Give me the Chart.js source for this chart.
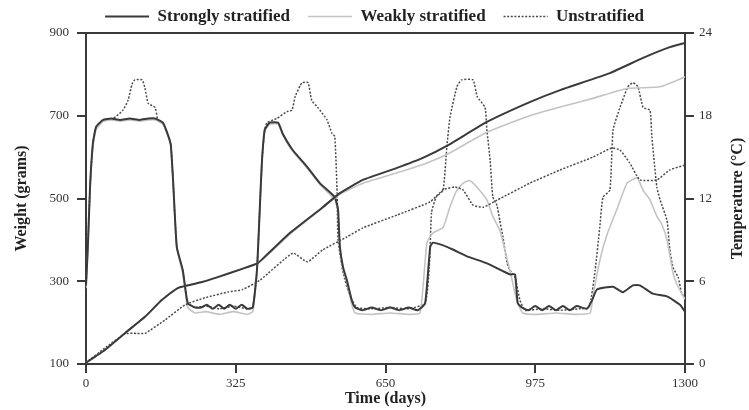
<!DOCTYPE html>
<html><head><meta charset="utf-8">
<script src="https://cdn.jsdelivr.net/npm/chart.js@4.4.1/dist/chart.umd.min.js"></script>
<style>html,body{margin:0;padding:0;background:#fff}</style>
</head><body>
<canvas id="c" width="749" height="410"></canvas>
<script>
const seriesNames = ['Strongly stratified', 'Weakly stratified', 'Unstratified'];
const xTicks = [0, 325, 650, 975, 1300];
const weightTicks = [100, 300, 500, 700, 900];
const tempTicks = [0, 6, 12, 18, 24];
const xTitle = 'Time (days)';
const weightTitle = 'Weight (grams)';
const tempTitle = 'Temperature (°C)';

// [day, grams]
const strongWeight = [[0,103],[20,118],[41,134],[85,175],[128,214],[165,255],[200,284],[252,298],[286,310],[339,330],[373,344],[388,359],[443,417],[514,479],[551,513],[601,545],[675,574],[731,598],[786,629],[870,685],[963,733],[1029,762],[1137,803],[1209,840],[1267,866],[1300,876]];
const weakWeight = [[0,103],[20,118],[41,134],[85,175],[128,214],[165,255],[200,284],[252,298],[286,310],[339,330],[373,344],[388,357],[443,414],[514,478],[551,510],[601,537],[675,562],[740,586],[786,608],[870,660],[963,700],[1029,721],[1100,742],[1174,766],[1246,770],[1300,794]];
const unstratWeight = [[0,103],[40,138],[85,173],[110,174],[128,174],[171,206],[215,243],[258,260],[308,274],[340,280],[378,303],[449,368],[480,347],[514,376],[566,407],[601,429],[675,460],[747,492],[775,521],[801,528],[818,521],[840,484],[862,479],[892,496],[963,537],[1029,569],[1100,600],[1141,622],[1159,617],[1180,586],[1202,545],[1239,545],[1267,569],[1300,581]];

// [day, °C]
const strongTemp = [[0,5.7],[4,8.5],[9,13.0],[15,16.0],[22,17.2],[37,17.7],[55,17.8],[74,17.7],[95,17.8],[117,17.7],[135,17.8],[150,17.8],[167,17.5],[178,16.6],[184,15.9],[189,13.3],[197,8.5],[210,6.8],[215,5.6],[221,4.4],[237,4.1],[250,4.1],[262,4.3],[275,4.0],[288,4.3],[300,4.0],[312,4.3],[325,4.0],[338,4.3],[350,4.0],[362,4.1],[371,6.8],[378,11.9],[382,14.8],[388,17.0],[399,17.5],[417,17.5],[427,16.7],[449,15.5],[480,14.3],[508,13.1],[540,12.1],[547,11.2],[551,8.5],[558,7.0],[566,6.1],[577,4.6],[584,4.1],[600,3.9],[620,4.1],[640,3.9],[660,4.1],[680,3.9],[700,4.1],[720,3.9],[736,4.4],[747,8.5],[753,8.8],[775,8.6],[796,8.3],[827,7.8],[870,7.3],[920,6.5],[931,6.5],[937,4.4],[946,4.1],[960,3.9],[975,4.2],[990,3.9],[1005,4.2],[1020,3.9],[1035,4.2],[1050,3.9],[1065,4.2],[1087,4.0],[1098,4.6],[1109,5.4],[1144,5.6],[1165,5.2],[1187,5.7],[1202,5.7],[1230,5.1],[1261,4.9],[1289,4.3],[1300,3.8]];
const weakTemp = [[0,5.5],[4,8.3],[9,12.8],[15,15.8],[22,17.0],[37,17.6],[55,17.7],[74,17.6],[95,17.7],[117,17.6],[135,17.7],[150,17.7],[167,17.4],[178,16.5],[184,15.8],[189,13.2],[197,8.4],[210,6.6],[215,5.4],[221,4.1],[237,3.7],[260,3.8],[290,3.6],[320,3.8],[350,3.6],[362,3.8],[371,6.6],[378,11.8],[382,14.7],[388,16.9],[399,17.4],[417,17.4],[427,16.6],[449,15.4],[480,14.2],[508,13.0],[540,11.9],[547,11.0],[551,8.3],[558,6.8],[566,5.9],[577,4.3],[584,3.7],[620,3.6],[660,3.7],[700,3.6],[725,3.7],[740,8.8],[753,9.5],[775,9.9],[790,11.4],[805,12.6],[818,13.1],[833,13.3],[849,12.8],[870,11.9],[883,10.7],[898,9.7],[905,8.8],[920,6.8],[935,4.6],[948,3.7],[980,3.6],[1020,3.7],[1060,3.6],[1094,3.7],[1100,4.9],[1115,7.5],[1131,9.4],[1152,11.2],[1174,13.1],[1196,13.5],[1209,12.6],[1224,11.9],[1239,10.7],[1250,10.1],[1261,9.0],[1274,6.6],[1285,5.6],[1300,4.7]];
const unstratTemp = [[0,5.7],[4,8.5],[9,13.0],[15,16.0],[22,17.2],[37,17.7],[59,17.8],[80,18.4],[91,19.1],[100,20.3],[106,20.6],[122,20.6],[128,20.0],[135,18.9],[150,18.6],[156,17.7],[167,17.4],[178,16.6],[184,15.9],[189,13.3],[197,8.5],[210,6.8],[215,5.6],[221,4.4],[237,4.1],[260,4.2],[290,4.0],[320,4.2],[350,4.0],[362,4.1],[371,6.8],[378,11.9],[382,14.8],[388,17.0],[393,17.5],[414,17.8],[436,18.3],[447,18.4],[454,19.4],[465,20.2],[469,20.4],[482,20.4],[490,19.1],[503,18.6],[523,17.7],[534,16.7],[540,16.5],[545,12.4],[547,9.0],[558,6.6],[573,4.9],[588,4.1],[620,4.0],[660,4.1],[700,4.0],[736,4.4],[745,7.0],[750,11.0],[760,12.1],[775,12.6],[783,15.7],[790,17.9],[805,20.1],[815,20.6],[840,20.6],[849,19.4],[866,18.6],[870,17.0],[877,14.8],[883,12.1],[892,11.5],[898,10.4],[905,9.2],[914,7.3],[920,6.8],[931,6.3],[942,4.6],[953,3.9],[990,4.0],[1030,3.9],[1070,4.0],[1092,4.1],[1105,6.8],[1115,9.9],[1122,12.1],[1137,12.6],[1144,17.0],[1159,18.6],[1176,20.1],[1187,20.4],[1198,20.1],[1209,18.6],[1224,18.4],[1228,16.5],[1239,12.8],[1246,11.9],[1261,10.4],[1267,8.3],[1274,7.0],[1285,6.3],[1293,5.1],[1300,4.8]];

const toXY = arr => arr.map(([d, v]) => ({x: d, y: v}));
const styles = [
  {borderColor: '#3a3a3a', borderWidth: 2, borderDash: []},
  {borderColor: '#c4c4c4', borderWidth: 1.6, borderDash: []},
  {borderColor: '#4a4a4a', borderWidth: 1.5, borderDash: [2, 1.6]}
];
const weightSets = [strongWeight, weakWeight, unstratWeight];
const tempSets = [strongTemp, weakTemp, unstratTemp];
const datasets = [];
weightSets.forEach((s, i) => datasets.push(Object.assign({label: seriesNames[i], data: toXY(s), yAxisID: 'y', pointRadius: 0, fill: false, tension: 0.15}, styles[i])));
tempSets.forEach((s, i) => datasets.push(Object.assign({label: seriesNames[i], data: toXY(s), yAxisID: 'yT', pointRadius: 0, fill: false, tension: 0.15}, styles[i])));

const serif = 'Liberation Serif, Times New Roman, serif';
const INK = '#3a3a3a';
const tickFont = {family: serif, size: 13};
const titleFont = {family: serif, size: 16, weight: 'bold'};

const legendFit = {
  id: 'legendFit',
  beforeInit(chart) {
    const lg = chart.legend;
    if (!lg) return;
    const orig = lg.fit;
    lg.fit = function () { orig.call(this); this.height = 43; };
  }
};
const frame = {
  id: 'frame',
  afterDraw(chart) {
    const {ctx, chartArea: a} = chart;
    ctx.save();
    ctx.strokeStyle = INK; ctx.lineWidth = 2;
    ctx.beginPath(); ctx.moveTo(a.left - 1, a.top); ctx.lineTo(a.right + 1, a.top); ctx.stroke();
    // right-axis title, read bottom-to-top like the reference
    const s = chart.scales.yT;
    ctx.translate(738, (s.top + s.bottom) / 2);
    ctx.rotate(-Math.PI / 2);
    ctx.fillStyle = '#222';
    ctx.font = 'bold 16px ' + serif;
    ctx.textAlign = 'center'; ctx.textBaseline = 'middle';
    ctx.fillText(tempTitle, 0, 0);
    ctx.restore();
  }
};
const axisCommon = {
  border: {display: true, color: INK, width: 2},
  grid: {drawOnChartArea: false, drawTicks: true, tickLength: 9, color: INK, lineWidth: 2}
};
const plainTick = v => String(v);

new Chart(document.getElementById('c'), {
  type: 'line',
  data: {datasets},
  plugins: [legendFit, frame],
  options: {
    responsive: false,
    animation: false,
    layout: {padding: {top: -10, left: 0, right: 0, bottom: 0}},
    plugins: {
      tooltip: {enabled: false},
      legend: {
        position: 'top',
        labels: {
          generateLabels: chart => {
            const items = Chart.defaults.plugins.legend.labels.generateLabels(chart);
            return items.filter(it => it.datasetIndex < 3).map(it => {
              const ds = chart.data.datasets[it.datasetIndex];
              it.lineDash = ds.borderDash;
              it.lineWidth = ds.borderWidth;
              it.strokeStyle = ds.borderColor;
              it.fillStyle = ds.borderColor;
              it.pointStyle = 'line';
              return it;
            });
          },
          usePointStyle: true, pointStyle: 'line', pointStyleWidth: 44,
          padding: 18, color: '#222',
          font: {family: serif, size: 17, weight: 'bold'}
        }
      }
    },
    scales: {
      x: Object.assign({}, axisCommon, {
        type: 'linear', position: 'bottom', min: 0, max: 1300,
        afterBuildTicks: s => { s.ticks = xTicks.map(v => ({value: v})); },
        afterFit: s => { s.height = 46; },
        ticks: {font: tickFont, color: '#333', padding: 3, maxRotation: 0, callback: plainTick},
        title: {display: true, text: xTitle, font: titleFont, color: '#222', padding: {top: 0, bottom: 2}}
      }),
      y: Object.assign({}, axisCommon, {
        type: 'linear', position: 'left', min: 100, max: 900,
        afterBuildTicks: s => { s.ticks = weightTicks.map(v => ({value: v})); },
        afterFit: s => { s.width = 86; },
        ticks: {font: tickFont, color: '#333', padding: 8, callback: plainTick},
        title: {display: true, text: weightTitle, font: titleFont, color: '#222', padding: {top: 12, bottom: 0}}
      }),
      yT: Object.assign({}, axisCommon, {
        type: 'linear', position: 'right', min: 0, max: 24,
        afterBuildTicks: s => { s.ticks = tempTicks.map(v => ({value: v})); },
        afterFit: s => { s.width = 64; },
        ticks: {font: tickFont, color: '#333', padding: 5, callback: plainTick},
        title: {display: false, text: tempTitle}
      })
    }
  }
});
</script>
</body></html>
